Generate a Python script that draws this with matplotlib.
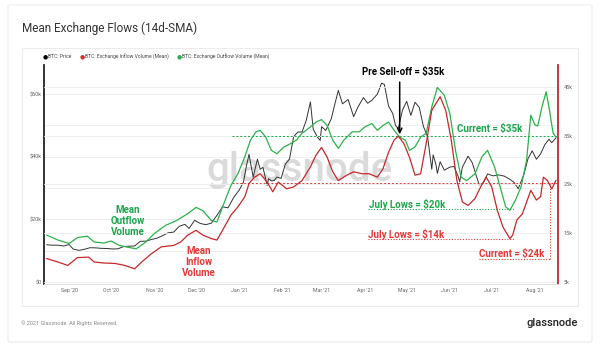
"""Mean exchange flows (14d-SMA) with BTC price, glassnode style card."""

import matplotlib

matplotlib.use("Agg")
import matplotlib.pyplot as plt
import pandas as pd
from matplotlib.patches import FancyBboxPatch, Rectangle

plt.rcParams["font.family"] = ["Roboto", "DejaVu Sans"]

# --- data -----------------------------------------------------------------
price_dates = [
    "2020-08-16", "2020-08-20", "2020-08-24", "2020-08-28", "2020-09-01", "2020-09-04",
    "2020-09-08", "2020-09-12", "2020-09-16", "2020-09-20", "2020-09-24", "2020-09-28",
    "2020-10-02", "2020-10-06", "2020-10-10", "2020-10-14", "2020-10-18", "2020-10-22",
    "2020-10-26", "2020-10-30", "2020-11-03", "2020-11-07", "2020-11-11", "2020-11-15",
    "2020-11-19", "2020-11-23", "2020-11-26", "2020-11-30", "2020-12-04", "2020-12-08",
    "2020-12-12", "2020-12-16", "2020-12-20", "2020-12-24", "2020-12-28", "2021-01-01",
    "2021-01-04", "2021-01-06", "2021-01-08", "2021-01-09", "2021-01-11", "2021-01-12",
    "2021-01-14", "2021-01-16", "2021-01-18", "2021-01-21", "2021-01-22", "2021-01-24",
    "2021-01-26", "2021-01-28", "2021-01-31", "2021-02-03", "2021-02-06", "2021-02-09",
    "2021-02-12", "2021-02-15", "2021-02-18", "2021-02-21", "2021-02-23", "2021-02-26",
    "2021-02-28", "2021-03-01", "2021-03-04", "2021-03-08", "2021-03-10", "2021-03-13",
    "2021-03-16", "2021-03-20", "2021-03-24", "2021-03-27", "2021-03-31", "2021-04-03",
    "2021-04-06", "2021-04-10", "2021-04-13", "2021-04-15", "2021-04-18", "2021-04-21",
    "2021-04-23", "2021-04-25", "2021-04-28", "2021-05-01", "2021-05-04", "2021-05-07",
    "2021-05-10", "2021-05-13", "2021-05-16", "2021-05-19", "2021-05-20", "2021-05-22",
    "2021-05-23", "2021-05-25", "2021-05-28", "2021-06-01", "2021-06-04", "2021-06-07",
    "2021-06-08", "2021-06-10", "2021-06-14", "2021-06-17", "2021-06-22", "2021-06-25",
    "2021-06-28", "2021-07-02", "2021-07-06", "2021-07-10", "2021-07-14", "2021-07-17",
    "2021-07-20", "2021-07-24", "2021-07-27", "2021-07-30", "2021-08-02", "2021-08-05",
    "2021-08-08", "2021-08-11", "2021-08-13", "2021-08-16",
]
price_usd = [
    11900, 11750, 11750, 11500, 11950, 10500,
    10100, 10450, 10950, 10900, 10750, 10700,
    10550, 10600, 11300, 11430, 11500, 12980,
    13050, 13560, 14000, 14800, 15700, 15950,
    17800, 18400, 17100, 19700, 18700, 18300,
    18800, 21300, 24000, 23700, 27000, 29400,
    31900, 36800, 40800, 38200, 33500, 35500,
    39200, 36000, 36600, 30800, 33000, 32300,
    32400, 33500, 33100, 37600, 39300, 46400,
    47900, 47900, 51600, 57500, 48800, 46300,
    45200, 49600, 48400, 52200, 55900, 61200,
    56900, 58300, 52800, 55800, 58900, 57100,
    58000, 60000, 63500, 63100, 56200, 53800,
    50000, 49000, 54900, 57700, 53200, 57400,
    55800, 49700, 46400, 36000, 40600, 37500,
    34700, 38400, 35700, 36700, 36900, 33600,
    32000, 36700, 40200, 38100, 31000, 31600,
    34500, 33900, 34200, 33800, 32800, 31800,
    29800, 34300, 39400, 41900, 39200, 40900,
    43800, 45600, 44500, 46000,
]

outflow_dates = [
    "2020-08-16", "2020-08-24", "2020-09-01", "2020-09-07", "2020-09-14", "2020-09-19",
    "2020-09-26", "2020-10-01", "2020-10-07", "2020-10-12", "2020-10-19", "2020-10-26",
    "2020-11-01", "2020-11-09", "2020-11-17", "2020-11-25", "2020-12-01", "2020-12-06",
    "2020-12-12", "2020-12-16", "2020-12-20", "2020-12-26", "2020-12-31", "2021-01-05",
    "2021-01-09", "2021-01-13", "2021-01-16", "2021-01-20", "2021-01-24", "2021-01-28",
    "2021-02-02", "2021-02-07", "2021-02-11", "2021-02-15", "2021-02-21", "2021-02-25",
    "2021-03-01", "2021-03-05", "2021-03-09", "2021-03-13", "2021-03-17", "2021-03-23",
    "2021-03-28", "2021-04-01", "2021-04-06", "2021-04-10", "2021-04-14", "2021-04-18",
    "2021-04-22", "2021-04-26", "2021-04-30", "2021-05-03", "2021-05-07", "2021-05-11",
    "2021-05-15", "2021-05-19", "2021-05-23", "2021-05-28", "2021-06-01", "2021-06-05",
    "2021-06-09", "2021-06-13", "2021-06-19", "2021-06-24", "2021-06-28", "2021-07-03",
    "2021-07-07", "2021-07-11", "2021-07-14", "2021-07-18", "2021-07-22", "2021-07-26",
    "2021-07-29", "2021-08-01", "2021-08-03", "2021-08-06", "2021-08-09", "2021-08-11",
    "2021-08-14", "2021-08-16",
]
outflow_k = [
    14.6, 13.6, 12.9, 14.1, 14.4, 13.2,
    13.0, 13.4, 12.5, 12.2, 11.8, 13.2,
    14.9, 16.6, 17.6, 19.0, 20.3, 19.6,
    17.6, 17.3, 20.4, 24.8, 27.2, 30.7,
    34.1, 35.8, 36.1, 34.7, 32.0, 31.3,
    32.7, 33.4, 34.1, 35.5, 36.8, 37.8,
    38.3, 37.1, 34.1, 32.4, 34.1, 35.8,
    35.8, 36.8, 37.5, 36.1, 37.1, 37.8,
    36.1, 34.7, 34.1, 32.0, 32.7, 34.7,
    35.5, 40.9, 44.9, 43.3, 39.5, 32.0,
    26.5, 25.8, 27.2, 30.7, 32.0, 28.6,
    24.5, 20.4, 19.7, 21.8, 24.5, 30.0,
    39.2, 37.2, 37.0, 40.9, 44.0, 40.9,
    35.5, 34.7,
]

inflow_dates = [
    "2020-08-16", "2020-08-24", "2020-08-31", "2020-09-07", "2020-09-15", "2020-09-19",
    "2020-09-26", "2020-10-04", "2020-10-11", "2020-10-18", "2020-10-23", "2020-10-30",
    "2020-11-06", "2020-11-15", "2020-11-20", "2020-11-25", "2020-12-01", "2020-12-06",
    "2020-12-12", "2020-12-16", "2020-12-20", "2020-12-26", "2020-12-31", "2021-01-05",
    "2021-01-08", "2021-01-12", "2021-01-16", "2021-01-21", "2021-01-25", "2021-01-29",
    "2021-02-04", "2021-02-09", "2021-02-15", "2021-02-21", "2021-02-25", "2021-03-01",
    "2021-03-05", "2021-03-09", "2021-03-13", "2021-03-19", "2021-03-24", "2021-03-30",
    "2021-04-04", "2021-04-10", "2021-04-14", "2021-04-18", "2021-04-22", "2021-04-25",
    "2021-04-29", "2021-05-03", "2021-05-07", "2021-05-11", "2021-05-15", "2021-05-19",
    "2021-05-25", "2021-05-29", "2021-06-02", "2021-06-06", "2021-06-10", "2021-06-14",
    "2021-06-19", "2021-06-23", "2021-06-27", "2021-07-01", "2021-07-05", "2021-07-09",
    "2021-07-14", "2021-07-16", "2021-07-19", "2021-07-23", "2021-07-29", "2021-08-02",
    "2021-08-05", "2021-08-07", "2021-08-10", "2021-08-13", "2021-08-16",
]
inflow_k = [
    9.8, 9.1, 8.4, 10.0, 10.1, 9.1,
    8.9, 8.8, 8.4, 7.7, 9.1, 10.8,
    12.2, 12.5, 13.2, 14.6, 15.6, 14.6,
    13.9, 13.6, 15.6, 18.7, 20.4, 22.5,
    25.2, 26.5, 27.2, 25.5, 23.5, 25.5,
    24.1, 24.5, 25.8, 28.6, 31.0, 32.6,
    30.6, 27.6, 25.8, 26.9, 27.6, 27.2,
    27.2, 26.5, 28.2, 31.6, 34.1, 34.9,
    33.4, 30.6, 26.9, 27.2, 33.4, 40.2,
    43.0, 40.2, 34.1, 25.8, 21.4, 20.7,
    22.1, 24.5, 26.5, 24.5, 19.7, 16.3,
    13.9, 14.6, 17.7, 19.0, 23.8, 21.8,
    22.5, 26.5, 25.8, 24.1, 25.8,
]

month_ticks = [
    "2020-09-01", "2020-10-01", "2020-11-01", "2020-12-01", "2021-01-01", "2021-02-01",
    "2021-03-01", "2021-04-01", "2021-05-01", "2021-06-01", "2021-07-01", "2021-08-01",
]
month_labels = [
    "Sep '20", "Oct '20", "Nov '20", "Dec '20", "Jan '21", "Feb '21",
    "Mar '21", "Apr '21", "May '21", "Jun '21", "Jul '21", "Aug '21",
]
price_ticks = [0, 20000, 40000, 60000]
price_labels = ["$0", "$20k", "$40k", "$60k"]
flow_ticks = [5, 15, 25, 35, 45]
flow_labels = ["5k", "15k", "25k", "35k", "45k"]

# annotation levels (right axis, thousands) and dates
current_outflow = 35.0
current_inflow = 25.2
july_low_outflow = 19.9
july_low_inflow = 13.8
current_inflow_box = 9.7
pre_selloff_date = "2021-04-26"
pre_selloff_level = 35.3

GREEN = "#2bb24c"
GREEN_TXT = "#1aa64a"
RED = "#c62828"
RED_TXT = "#e53935"

W, H = 600, 351


def fx(px):
    return px / W


def fy(py):
    return 1 - py / H


def main():
    fig = plt.figure(figsize=(6, 3.51), dpi=100, facecolor="white")

    # card + inner panel
    fig.patches.append(FancyBboxPatch((fx(8), fy(342)), fx(584), 337 / H,
                                      boxstyle="round,pad=0,rounding_size=0.004",
                                      transform=fig.transFigure, facecolor="white",
                                      edgecolor="#ececec", lw=0.8, zorder=-2))
    fig.patches.append(Rectangle((fx(22), fy(306)), fx(556), 258 / H,
                                 transform=fig.transFigure, facecolor="none",
                                 edgecolor="#ececec", lw=0.8, zorder=-1))

    fig.text(fx(22), fy(28), "Mean Exchange Flows (14d-SMA)", fontsize=8.5,
             color="#333333", va="center", ha="left")

    # legend
    legend_items = [(43, "black", "BTC: Price"),
                    (80, "#d32f2f", "BTC: Exchange Inflow Volume (Mean)"),
                    (177, "#22b14c", "BTC: Exchange Outflow Volume (Mean)")]
    for x, c, label in legend_items:
        fig.text(fx(x), fy(57), "●", fontsize=4.2, color=c, va="center", ha="left",
                 family="DejaVu Sans")
        fig.text(fx(x + 5), fy(57), label, fontsize=3.6, color="#444444",
                 va="center", ha="left")

    fig.text(fx(21), fy(323), "© 2021 Glassnode. All Rights Reserved.", fontsize=4,
             color="#8a8a8a", va="center", ha="left")
    fig.text(fx(578), fy(323), "glassnode", fontsize=8, color="#222222",
             va="center", ha="right", fontweight="medium")

    ax = fig.add_axes([fx(44), fy(284), fx(558 - 44), (284 - 65) / H])
    ax2 = ax.twinx()
    ax.set_zorder(1)
    ax2.set_zorder(2)
    ax.patch.set_visible(False)
    ax2.patch.set_visible(False)

    pdates = pd.to_datetime(price_dates)
    odates = pd.to_datetime(outflow_dates)
    idates = pd.to_datetime(inflow_dates)

    # grid
    for v in [0, 10000, 20000, 30000, 40000, 50000, 60000]:
        ax.axhline(v, color="#ededed", lw=0.6, zorder=0)
    for v in flow_ticks:
        ax2.axhline(v, color="#ededed", lw=0.6, zorder=0)

    ax.text(fx(300), fy(170), "glassnode", transform=fig.transFigure, fontsize=29,
            color="#dadada", ha="center", va="center", fontweight="medium", zorder=1)

    ax.plot(pdates, price_usd, color="#333333", lw=0.7, zorder=3)
    ax2.plot(odates, outflow_k, color=GREEN, lw=0.9, zorder=3)
    ax2.plot(idates, inflow_k, color=RED, lw=0.9, zorder=3)

    ax.set_xlim(pd.Timestamp("2020-08-14"), pd.Timestamp("2021-08-17 12:00"))
    ax.set_ylim(-640, 69300)
    ax2.set_ylim(4.59, 49.5)

    ax.set_xticks(pd.to_datetime(month_ticks))
    ax.set_xticklabels(month_labels)
    ax.set_yticks(price_ticks)
    ax.set_yticklabels(price_labels)
    ax2.set_yticks(flow_ticks)
    ax2.set_yticklabels(flow_labels)

    ax.tick_params(axis="x", length=0, pad=3, labelsize=3.8, labelcolor="#666666")
    ax.tick_params(axis="y", length=0, pad=1.5, labelsize=4, labelcolor="#666666")
    ax2.tick_params(axis="y", length=0, pad=4, labelsize=4, labelcolor="#666666")

    for a in (ax, ax2):
        a.spines["top"].set_visible(False)
        a.spines["bottom"].set_color("#e0e0e0")
        a.spines["bottom"].set_linewidth(0.6)
        a.spines["left"].set_visible(False)
        a.spines["right"].set_visible(False)
    ax.spines["left"].set_visible(True)
    ax.spines["left"].set_color("#222222")
    ax.spines["left"].set_linewidth(1.3)
    ax2.spines["right"].set_visible(True)
    ax2.spines["right"].set_color(RED)
    ax2.spines["right"].set_linewidth(1.3)

    # reference lines
    line_start = pd.Timestamp("2020-12-27")
    line_end = pd.Timestamp("2021-08-17")
    ax2.plot([line_start, line_end], [current_outflow] * 2, color=GREEN_TXT,
             lw=0.7, ls=(0, (2, 2)), zorder=2)
    ax2.plot([line_start, line_end], [current_inflow] * 2, color=RED_TXT,
             lw=0.7, ls=(0, (2, 2)), zorder=2)

    low_start = pd.Timestamp("2021-04-03")
    ax2.plot([low_start, pd.Timestamp("2021-07-17")], [july_low_outflow] * 2,
             color=GREEN_TXT, lw=0.8, ls=(0, (1, 1.5)), zorder=2)
    ax2.plot([low_start, pd.Timestamp("2021-07-17")], [july_low_inflow] * 2,
             color=RED_TXT, lw=0.8, ls=(0, (1, 1.5)), zorder=2)

    box_l, box_r = pd.Timestamp("2021-06-22"), pd.Timestamp("2021-08-12")
    ax2.plot([box_l, box_r], [current_inflow_box] * 2, color=RED_TXT, lw=0.8,
             ls=(0, (1, 1.5)), zorder=2)
    ax2.plot([box_r, box_r], [current_inflow_box, current_inflow], color=RED_TXT,
             lw=0.8, ls=(0, (1, 1.5)), zorder=2)

    bold = dict(fontsize=7, fontweight="bold", ha="center", va="center")
    fig.text(fx(403), fy(72), "Pre Sell-off = $35k", color="black", **bold)
    ax2.annotate("", xy=(pd.Timestamp(pre_selloff_date), pre_selloff_level),
                 xytext=(pd.Timestamp(pre_selloff_date), 46.0),
                 arrowprops=dict(arrowstyle="->", lw=1.1, color="black",
                                 shrinkA=0, shrinkB=0, mutation_scale=8))
    fig.text(fx(490), fy(129), "Current = $35k", color=GREEN_TXT, **bold)
    fig.text(fx(407), fy(204), "July Lows = $20k", color=GREEN_TXT, **bold)
    fig.text(fx(406), fy(234), "July Lows = $14k", color=RED_TXT, **bold)
    fig.text(fx(512), fy(254), "Current = $24k", color=RED_TXT, **bold)
    fig.text(fx(128), fy(221), "Mean\nOutflow\nVolume", color=GREEN_TXT,
             linespacing=1.15, **bold)
    fig.text(fx(199), fy(262), "Mean\nInflow\nVolume", color=RED_TXT,
             linespacing=1.15, **bold)

    fig.savefig("out.png", dpi=100, facecolor="white")
    plt.close(fig)


if __name__ == "__main__":
    main()
